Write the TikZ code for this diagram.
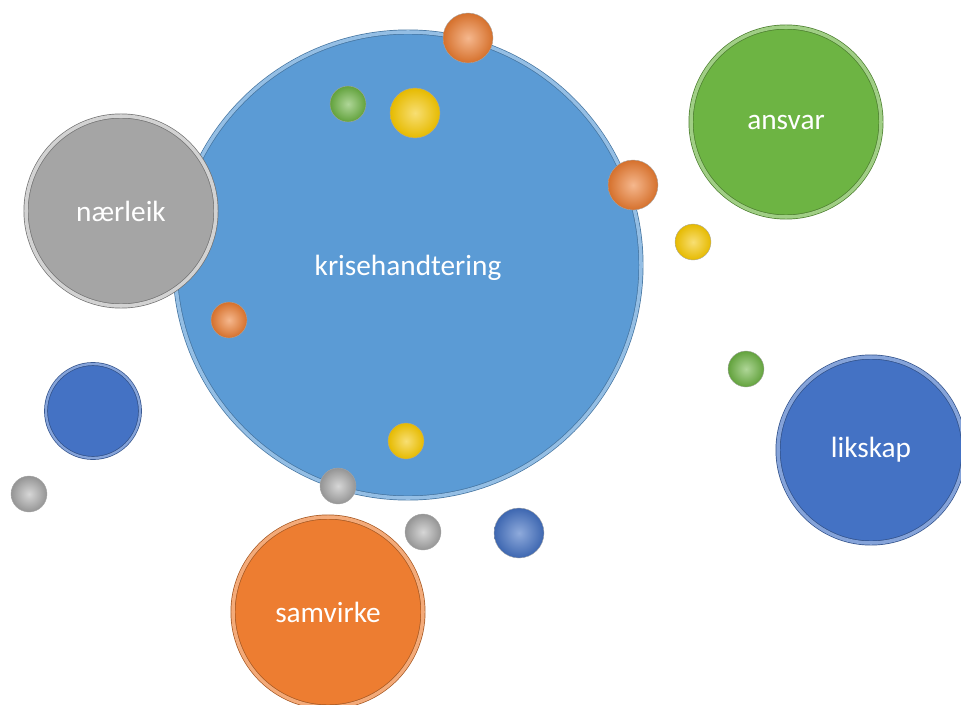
\documentclass[tikz,border=0pt]{standalone}
\usepackage{fontspec}
\setmainfont{Carlito}
\definecolor{krblue}{HTML}{5B9BD5}
\definecolor{kgrey}{HTML}{A5A5A5}
\definecolor{kgreen}{HTML}{6DB443}
\definecolor{kdblue}{HTML}{4472C4}
\definecolor{korange}{HTML}{ED7D31}
\definecolor{kyellow}{HTML}{F2C400}
\begin{document}
\begin{tikzpicture}[x=0.03cm,y=-0.03cm,
    disc/.style={circle, inner sep=0pt, minimum size=#1*0.06cm, text=white,
        font=\fontsize{25}{30}\selectfont, line width=0.6pt, double distance=3pt},
    ball/.style={circle, inner sep=0pt, minimum size=#1*0.06cm, draw=black!35, line width=0.3pt}]
    \useasboundingbox (0,0) rectangle (961,704);
    % main circle
    \node[disc=233, fill=krblue, draw=krblue!75!black,
        double=krblue!65!white] (krise) at (408,265) {};
    \node at (408,268) [text=white, font=\fontsize{25}{30}\selectfont] (kriseText) {krisehandtering};
    % the four values
    \node[disc=95, fill=kgrey, draw=kgrey!70!black,
        double=kgrey!50!white] (naer) at (121,211) {nærleik};
    \node[disc=95, fill=kgreen, draw=kgreen!70!black,
        double=kgreen!65!white] (ansvar) at (786,122) {ansvar};
    \node[disc=93, fill=kdblue, draw=kdblue!70!black,
        double=kdblue!65!white] (likskap) at (871,450) {likskap};
    \node[disc=95, fill=korange, draw=korange!70!black,
        double=korange!65!white] (samvirke) at (328,612) {samvirke};
    \node[disc=47, fill=kdblue, draw=kdblue!70!black,
        double=kdblue!65!white, double distance=2pt] (blueL) at (93,411) {};
    % small balls
    \node[ball=25, inner color=korange!55!white, outer color=korange!90!black] (oTop) at (468,38) {};
    \node[ball=18, inner color=kgreen!55!white, outer color=kgreen!90!black] (gTop) at (348,104) {};
    \node[ball=25, inner color=kyellow!55!white, outer color=kyellow!95!black] (yTop) at (415,113) {};
    \node[ball=25, inner color=korange!55!white, outer color=korange!90!black] (oRight) at (633,185) {};
    \node[ball=18, inner color=kyellow!55!white, outer color=kyellow!95!black] (yRight) at (693,242) {};
    \node[ball=18, inner color=korange!55!white, outer color=korange!90!black] (oLeft) at (229,320) {};
    \node[ball=18, inner color=kgreen!55!white, outer color=kgreen!90!black] (gRight) at (746,369) {};
    \node[ball=18, inner color=kyellow!55!white, outer color=kyellow!95!black] (yBot) at (406,441) {};
    \node[ball=18, inner color=kgrey!45!white, outer color=kgrey!90!black] (grL) at (29,494) {};
    \node[ball=18, inner color=kgrey!45!white, outer color=kgrey!90!black] (grM) at (338,486) {};
    \node[ball=18, inner color=kgrey!45!white, outer color=kgrey!90!black] (grB) at (423,532) {};
    \node[ball=25, inner color=kdblue!60!white, outer color=kdblue!90!black] (bBot) at (519,533) {};
\end{tikzpicture}
\end{document}
